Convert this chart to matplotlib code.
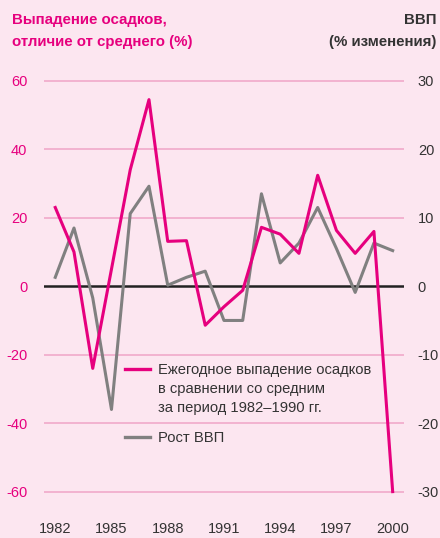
import matplotlib
matplotlib.use("Agg")
import matplotlib.pyplot as plt
from matplotlib.lines import Line2D

years = list(range(1982, 2001))
rain = [23, 10, -24, 5, 34, 54.5, 13.1, 13.3, -11.4, -6, -1.2, 17.2, 15.2, 9.6, 32.4, 16.3, 9.6, 16, -60]
gdp = [1.3, 8.5, -1.7, -18, 10.6, 14.6, 0.15, 1.3, 2.2, -5, -5, 13.5, 3.4, 6.3, 11.5, 5.5, -0.9, 6.3, 5.2]
xticks = [1982, 1985, 1988, 1991, 1994, 1997, 2000]
left_ticks = [-60, -40, -20, 0, 20, 40, 60]
right_ticks = [-30, -20, -10, 0, 10, 20, 30]
rain_label = ["Ежегодное выпадение осадков", "в сравнении со средним", "за период 1982–1990 гг."]
gdp_label = "Рост ВВП"

PINK = "#e6007e"
GREY = "#808080"
BG = "#fce6f0"
GRID = "#f2aecd"
DARK = "#333333"
FONT = ["Liberation Sans", "DejaVu Sans"]
plt.rcParams["font.family"] = FONT

W, H = 440, 538
fig = plt.figure(figsize=(W / 100, H / 100), dpi=100, facecolor=BG)
ax = fig.add_axes([0.1, 0.048, 0.818, 0.84])
ax.set_facecolor(BG)
ax.set_xlim(1981.4, 2000.6)
ax.set_ylim(-66, 66)
for y in left_ticks:
    if y != 0:
        ax.axhline(y, color=GRID, lw=1.3, zorder=1)
ax.axhline(0, color="#222222", lw=1.8, zorder=2)

ax2 = ax.twinx()
ax2.set_ylim(-33, 33)
ax2.plot(years, gdp, color=GREY, lw=2.2, zorder=3)
ax2.set_zorder(ax.get_zorder() + 1)
ax2.patch.set_visible(False)

ax3 = ax.twinx()
ax3.set_ylim(-66, 66)
ax3.plot(years, rain, color=PINK, lw=2.2, zorder=4)
ax3.set_zorder(ax2.get_zorder() + 1)
ax3.patch.set_visible(False)
ax3.set_yticks([])

for a in (ax, ax2, ax3):
    for s in a.spines.values():
        s.set_visible(False)

ax.set_xticks(xticks)
ax.set_xticklabels([str(t) for t in xticks], fontsize=10.5, color=DARK)
ax.tick_params(axis="x", length=0, pad=7)
ax.set_yticks(left_ticks)
ax.set_yticklabels([str(t) for t in left_ticks], fontsize=10.5, color=PINK)
ax.tick_params(axis="y", length=0, pad=12)
ax2.set_yticks(right_ticks)
ax2.set_yticklabels([str(t) for t in right_ticks], fontsize=10.5, color=DARK)
ax2.tick_params(axis="y", length=0, pad=10)

def fx(px):
    return px / W

def fy(py):
    return 1 - py / H

fig.text(fx(12), fy(20), "Выпадение осадков,", color=PINK, fontsize=10.8,
         fontweight="bold", ha="left", va="center")
fig.text(fx(12), fy(42), "отличие от среднего (%)", color=PINK, fontsize=10.8,
         fontweight="bold", ha="left", va="center")
fig.text(fx(436), fy(20), "ВВП", color=DARK, fontsize=10.8,
         fontweight="bold", ha="right", va="center")
fig.text(fx(436), fy(42), "(% изменения)", color=DARK, fontsize=10.8,
         fontweight="bold", ha="right", va="center")

# legend drawn manually (handle aligned to first text line)
fig.add_artist(Line2D([fx(125), fx(150)], [fy(369), fy(369)], color=PINK, lw=2.4,
                      transform=fig.transFigure))
for i, line in enumerate(rain_label):
    fig.text(fx(158), fy(370 + 19 * i), line, color=DARK, fontsize=10.6,
             ha="left", va="center")
fig.add_artist(Line2D([fx(125), fx(150)], [fy(437), fy(437)], color=GREY, lw=2.4,
                      transform=fig.transFigure))
fig.text(fx(158), fy(438), gdp_label, color=DARK, fontsize=10.6, ha="left", va="center")

fig.savefig("out.png", dpi=100, facecolor=BG)
